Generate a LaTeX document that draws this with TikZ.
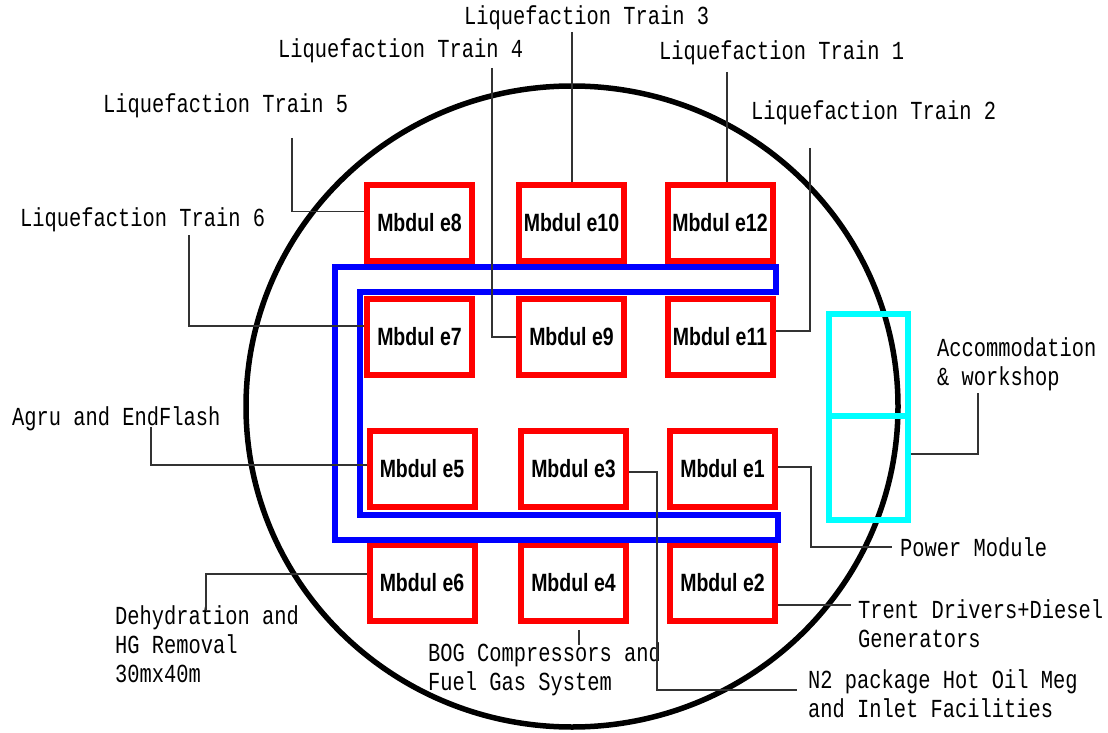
\documentclass[tikz,border=0pt]{standalone}
\usepackage{fontspec}
\setmainfont{Liberation Serif}
\newfontfamily\lblfont{Liberation Mono}[FakeStretch=0.785]
\newfontfamily\modfont{Liberation Sans}[FakeStretch=0.78]
\definecolor{pureblue}{RGB}{0,0,255}
\definecolor{purered}{RGB}{255,0,0}
\definecolor{purecyan}{RGB}{0,255,255}
\definecolor{leadgray}{RGB}{50,50,50}
\tikzset{
  modbox/.style={draw=purered, line width=6pt, minimum width=105pt, minimum height=76pt,
    inner sep=0pt, font=\modfont\bfseries\fontsize{25}{25}\selectfont},
  lbl/.style={anchor=base west, inner sep=0pt, align=left,
    font=\lblfont\fontsize{26}{28.7}\selectfont},
  leader/.style={draw=leadgray, line width=1.2pt},
  accbox/.style={draw=purecyan, line width=6pt, inner sep=0pt},
}
\begin{document}
\begin{tikzpicture}[x=1pt,y=-1pt]
\useasboundingbox (0,0) rectangle (1108,733);
% platform outline
\draw[line width=5.5pt] (572,406.5) ellipse [x radius=326, y radius=320.5];
% modules
\node[modbox] (e8)  at (419.5,222.5) {Mbdul e8};
\node[modbox] (e10) at (571.5,222.5) {Mbdul e10};
\node[modbox] (e12) at (720,222.5) {Mbdul e12};
\node[modbox] (e7)  at (419.5,337) {Mbdul e7};
\node[modbox] (e9)  at (571.5,337) {Mbdul e9};
\node[modbox] (e11) at (720,337) {Mbdul e11};
\node[modbox] (e5)  at (422,469) {Mbdul e5};
\node[modbox] (e3)  at (573.5,469) {Mbdul e3};
\node[modbox] (e1)  at (722.5,469) {Mbdul e1};
\node[modbox] (e6)  at (422,583) {Mbdul e6};
\node[modbox] (e4)  at (573.5,583) {Mbdul e4};
\node[modbox] (e2)  at (722.5,583) {Mbdul e2};
% pipe rack
\draw[pureblue, line width=6pt, line join=miter]
  (335,267) -- (776,267) -- (776,292) -- (360,292) -- (360,515) -- (778,515)
  -- (778,540) -- (335,540) -- cycle;
% accommodation
\node[accbox, minimum width=79pt, minimum height=102pt] (acc1) at (868.5,365) {};
\node[accbox, minimum width=79pt, minimum height=104pt] (acc2) at (868.5,468) {};
% labels (anchor = baseline of last line)
\node[lbl] (t3) at (464,25) {Liquefaction Train 3};
\node[lbl] (t4) at (278,58) {Liquefaction Train 4};
\node[lbl] (t1) at (659,60) {Liquefaction Train 1};
\node[lbl] (t5) at (103,113) {Liquefaction Train 5};
\node[lbl] (t2) at (751,120) {Liquefaction Train 2};
\node[lbl] (t6) at (20,226) {Liquefaction Train 6};
\node[lbl] (agru) at (12,425) {Agru and EndFlash};
\node[lbl] (dehy) at (115,682) {Dehydration and\\HG Removal\\30mx40m};
\node[lbl] (bog) at (428,690) {BOG Compressors and\\Fuel Gas System};
\node[lbl] (trent) at (858,647) {Trent Drivers+Diesel\\Generators};
\node[lbl] (ntwo) at (808,717) {N2 package Hot Oil Meg\\and Inlet Facilities};
\node[lbl] (power) at (900,556) {Power Module};
\node[lbl] (accom) at (937,385) {Accommodation\\\& workshop};
% free ends of leaders
\coordinate (t3end) at (572,32);
\coordinate (t4end) at (492,68);
\coordinate (t1end) at (727,72);
\coordinate (t5end) at (292,138);
\coordinate (t2end) at (810,148);
\coordinate (t6end) at (189,235);
\coordinate (agend) at (151,427);
\coordinate (deend) at (206,610);
\coordinate (n2corner) at (657,690);
\coordinate (n2end) at (797,690);
\coordinate (pwcorner) at (811,547);
\coordinate (pwend) at (892,547);
\coordinate (acend) at (978,393);
% leaders
\draw[leader] (t3end) -- (t3end |- e10.north);
\draw[leader] (t4end) |- (e9.west);
\draw[leader] (t1end) -- (t1end |- e12.north);
\draw[leader] (t5end) |- ([yshift=11pt]e8.west);
\draw[leader] (t2end) |- ([yshift=6pt]e11.east);
\draw[leader] (t6end) |- ([yshift=11pt]e7.west);
\draw[leader] (agend) |- ([yshift=4pt]e5.west);
\draw[leader] (deend) |- ([yshift=9pt]e6.west);
\draw[leader] ([xshift=5.5pt,yshift=-6pt]e4.south) -- ++(0,15);
\draw[leader] ([yshift=-22pt]e2.east) -- ++(73,0);
\draw[leader] ([yshift=-3pt]e3.east) -| (n2corner) -- (n2end);
\draw[leader] ([yshift=2pt]e1.east) -| (pwcorner) -- (pwend);
\draw[leader] ([yshift=14pt]acc2.east) -| (acend);
\end{tikzpicture}
\end{document}
